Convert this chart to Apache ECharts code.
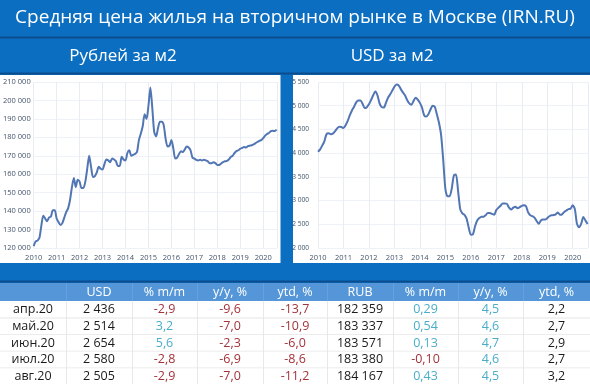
<!DOCTYPE html>
<html><head><meta charset="utf-8">
<script src="https://cdn.jsdelivr.net/npm/echarts@6/dist/echarts.min.js"></script>
<style>html,body{margin:0;padding:0;background:#0b6ec0}
#wrap{position:relative;width:590px;height:384px}
#c{position:absolute;left:0;top:0;width:590px;height:384px}
#r{position:absolute;left:280px;top:75px;width:310px;height:188px}</style>
</head><body><div id="wrap"><div id="c"></div><div id="r"></div></div><script>
// ---- data ----
const startYear = 2010; // monthly series from Jan 2010
const rubPerM2 = [121000,123500,124000,125500,132000,137500,136000,134500,136500,137000,140500,140500,
136000,134000,132500,133500,136500,139500,141500,146000,153000,158000,153000,157000,
156000,152500,152500,156000,163000,170000,164000,158500,159000,161000,164000,163000,
162500,165500,168000,167500,166500,168500,168000,167000,164500,164500,169500,168000,
167500,171500,173000,170000,170500,171000,172000,178500,182000,186000,192500,190000,
197000,207000,196000,183000,180500,185000,188500,188500,186500,179000,175000,175500,
178500,174000,168500,169000,171000,172500,172000,173500,175000,174500,173000,169000,
168500,167800,167500,167800,167500,167800,167500,167000,166000,166000,166500,166000,
165000,165000,165800,166500,167000,167200,168000,169300,170000,171500,172500,173000,
173800,174300,174800,174500,175200,175500,175700,176200,176900,177500,178100,178500,
179600,180900,181800,182359,183337,183571,183380,184167];
const usdPerM2 = [4030,4080,4160,4250,4400,4420,4400,4410,4460,4520,4555,4550,
4530,4590,4680,4800,4900,4980,5070,5110,5110,5040,4950,4970,
5030,5120,5220,5300,5220,5050,4970,4960,5060,5170,5240,5320,
5400,5445,5430,5350,5280,5220,5120,5050,5020,5100,5170,5130,
5060,4960,4800,4770,4820,4920,5000,4980,4820,4640,4380,3850,
3250,3090,3090,3250,3530,3550,3200,2820,2730,2700,2620,2430,
2280,2290,2460,2580,2630,2660,2660,2690,2740,2740,2720,2700,
2800,2850,2890,2940,2940,2930,2850,2810,2850,2870,2840,2860,
2890,2900,2880,2750,2690,2670,2640,2570,2510,2580,2600,2600,
2630,2670,2690,2695,2710,2750,2700,2710,2760,2790,2820,2830,
2900,2820,2509,2436,2514,2654,2580,2505];
const yearTicks = ['2010','2011','2012','2013','2014','2015','2016','2017','2018','2019','2020'];

const tableMonths = ['апр.20','май.20','июн.20','июл.20','авг.20'];
const tableHeader = ['', 'USD', '% m/m', 'y/y, %', 'ytd, %', 'RUB', '% m/m', 'y/y, %', 'ytd, %'];
const usdValue = [2436, 2514, 2654, 2580, 2505];
const usdMoM = [-2.9, 3.2, 5.6, -2.8, -2.9];
const usdYoY = [-9.6, -7.0, -2.3, -6.9, -7.0];
const usdYtd = [-13.7, -10.9, -6.0, -8.6, -11.2];
const rubValue = [182359, 183337, 183571, 183380, 184167];
const rubMoM = [0.29, 0.54, 0.13, -0.10, 0.43];
const rubYoY = [4.5, 4.6, 4.7, 4.6, 4.5];
const rubYtd = [2.2, 2.7, 2.9, 2.7, 3.2];

// ---- helpers ----
const thou = v => String(v).replace(/\B(?=(\d{3})+(?!\d))/g, ' ');
const dec = (v, d) => v.toFixed(d).replace('.', ',');
const toSeries = arr => arr.map((v, i) => [startYear + i / 12, v]);

const BLUE = '#0b6ec0', DARK = '#0a4c8c', HEAD = '#5596d8';
const RED = '#a3333a', TEAL = '#4aaec8', BLACK = '#1a1a1a';
const LINE = '#5276b4';
const FONT = '"Open Sans", sans-serif';

const chart = echarts.init(document.getElementById('c'), null, {renderer: 'canvas'});
const chartR = echarts.init(document.getElementById('r'), null, {renderer: 'canvas'});

// ---- graphics: backgrounds, titles, table ----
const g = [];
g.push({type: 'rect', shape: {x: 0, y: 0, width: 590, height: 384}, style: {fill: BLUE}, z: -20});
g.push({type: 'rect', shape: {x: 0, y: 36.5, width: 590, height: 2}, style: {fill: DARK}, z: -19});
g.push({type: 'rect', shape: {x: 0, y: 72.5, width: 590, height: 2}, style: {fill: DARK}, z: -19});
g.push({type: 'rect', shape: {x: 0, y: 75, width: 280.5, height: 188}, style: {fill: '#ffffff'}, z: -19});
g.push({type: 'rect', shape: {x: 293, y: 75, width: 297, height: 188}, style: {fill: '#ffffff'}, z: -19});
g.push({type: 'rect', shape: {x: 0, y: 280.5, width: 590, height: 2}, style: {fill: DARK}, z: -19});
g.push({type: 'rect', shape: {x: 0, y: 283, width: 590, height: 18}, style: {fill: HEAD}, z: -19});
g.push({type: 'rect', shape: {x: 0, y: 301, width: 590, height: 83}, style: {fill: '#ffffff'}, z: -19});

g.push({type: 'text', x: 295, y: 18, z: 50, style: {text: 'Средняя цена жилья на вторичном рынке в Москве (IRN.RU)', fill: '#ffffff', font: '19px ' + FONT, align: 'center', verticalAlign: 'middle'}});
g.push({type: 'text', x: 123, y: 56, z: 50, style: {text: 'Рублей за м2', fill: '#ffffff', font: '17px ' + FONT, align: 'center', verticalAlign: 'middle'}});
g.push({type: 'text', x: 392, y: 56, z: 50, style: {text: 'USD за м2', fill: '#ffffff', font: '17px ' + FONT, align: 'center', verticalAlign: 'middle'}});

const colEdges = [0, 66, 132, 197, 263, 327, 393, 458, 523, 590];
const rowTop = 301, rowH = 16.6;
for (let c = 1; c < colEdges.length - 1; c++) {
  g.push({type: 'rect', shape: {x: colEdges[c], y: 283, width: 0.8, height: 18}, style: {fill: '#6aa5df'}, z: -18});
  g.push({type: 'rect', shape: {x: colEdges[c], y: 301, width: 0.8, height: 83}, style: {fill: '#e2e2e2'}, z: -18});
}
for (let r = 1; r < 5; r++) {
  g.push({type: 'rect', shape: {x: 0, y: rowTop + r * rowH, width: 590, height: 0.8}, style: {fill: '#e6e6e6'}, z: -18});
}
const colCenter = c => (colEdges[c] + colEdges[c + 1]) / 2;
tableHeader.forEach((h, c) => {
  if (h) g.push({type: 'text', x: colCenter(c), y: 292, z: 50, style: {text: h, fill: '#ffffff', font: '12.5px ' + FONT, align: 'center', verticalAlign: 'middle'}});
});
const signColor = v => v < 0 ? RED : TEAL;
tableMonths.forEach((m, r) => {
  const y = rowTop + r * rowH + rowH / 2 + 0.5;
  const cells = [
    [m, BLACK],
    [thou(usdValue[r]), BLACK],
    [dec(usdMoM[r], 1), signColor(usdMoM[r])],
    [dec(usdYoY[r], 1), signColor(usdYoY[r])],
    [dec(usdYtd[r], 1), signColor(usdYtd[r])],
    [thou(rubValue[r]), BLACK],
    [dec(rubMoM[r], 2), signColor(rubMoM[r])],
    [dec(rubYoY[r], 1), signColor(rubYoY[r])],
    [dec(rubYtd[r], 1), BLACK]
  ];
  cells.forEach((cell, c) => {
    g.push({type: 'text', x: colCenter(c), y: y, z: 50, style: {text: cell[0], fill: cell[1], font: '12.5px ' + FONT, align: 'center', verticalAlign: 'middle'}});
  });
});

// ---- axes ----
const xAxisCommon = {
  type: 'value', min: 2010, max: 2020.6, interval: 1,
  axisLine: {show: false}, axisTick: {show: false},
  splitLine: {show: true, lineStyle: {color: '#e9edf3', width: 1}},
  axisLabel: {
    color: '#44546a', fontSize: 7.5, fontFamily: FONT, margin: 6,
    formatter: v => { const i = Math.round(v - 2010); return Math.abs(v - Math.round(v)) < 1e-6 && yearTicks[i] ? yearTicks[i] : ''; }
  }
};
const yLabel = (m, fs) => ({show: true, color: '#44546a', fontSize: fs, fontFamily: FONT, margin: m, formatter: v => thou(v)});

chart.setOption({
  animation: false,
  backgroundColor: BLUE,
  graphic: {elements: g},
  grid: [{left: 30, top: 82, width: 247, height: 166}],
  xAxis: [Object.assign({gridIndex: 0}, xAxisCommon)],
  yAxis: [
    {gridIndex: 0, type: 'value', min: 120000, max: 210000, interval: 10000,
     axisLine: {show: false}, axisTick: {show: false},
     splitLine: {lineStyle: {color: '#eef1f5'}}, axisLabel: yLabel(3, 7.5)}
  ],
  series: [
    {type: 'line', data: toSeries(rubPerM2), showSymbol: false, smooth: 0.25,
     lineStyle: {color: LINE, width: 2}}
  ]
});

chartR.setOption({
  animation: false,
  backgroundColor: 'transparent',
  grid: [{left: 38, top: 7, width: 270, height: 166, outerBoundsMode: 'none'}],
  xAxis: [Object.assign({gridIndex: 0}, xAxisCommon)],
  yAxis: [
    {gridIndex: 0, type: 'value', min: 2000, max: 5500, interval: 500,
     axisLine: {show: false}, axisTick: {show: false},
     splitLine: {lineStyle: {color: '#eef1f5'}}, axisLabel: yLabel(9, 6.6)}
  ],
  series: [
    {type: 'line', data: toSeries(usdPerM2), showSymbol: false, smooth: 0.25,
     lineStyle: {color: LINE, width: 2}}
  ]
});
</script></body></html>
